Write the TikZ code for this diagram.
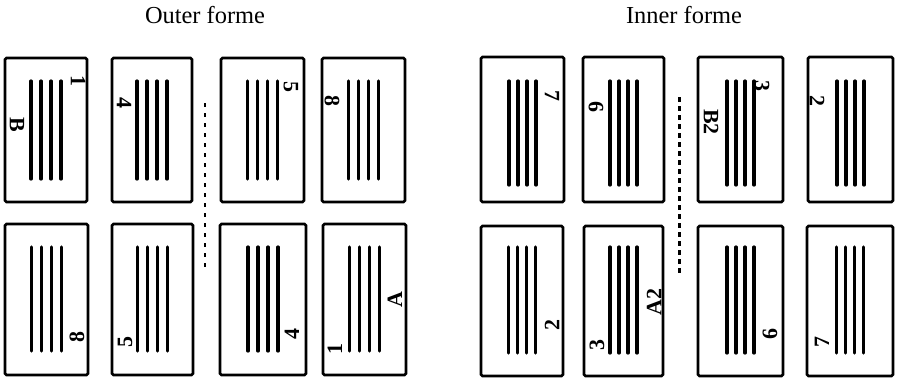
\documentclass[tikz,border=0pt]{standalone}
\usepackage{fontspec}
\setmainfont{Liberation Serif}
\begin{document}
\begin{tikzpicture}[x=1bp,y=-1bp,
  pageframe/.style={line width=2.8bp, rounded corners=1.5bp},
  tline/.style={line width=3.2bp, line cap=round},
  title/.style={font=\fontsize{24.5}{27}\selectfont, inner sep=0pt},
  labT/.style={font=\bfseries\fontsize{22}{23}\selectfont, inner sep=0pt, rotate=-90},
  labB/.style={font=\bfseries\fontsize{22}{23}\selectfont, inner sep=0pt, rotate=90},
  dotline/.style={line width=2.6bp, dash pattern=on 4bp off 6bp},
  dotlineb/.style={line width=3bp, dash pattern=on 5bp off 4bp}]
\useasboundingbox (0,0) rectangle (901,381);
\newcommand\Pg[7]{%
  \draw[pageframe] (#1,#2) rectangle (#3,#4);
  \foreach \k in {-1.5,-0.5,0.5,1.5}
    \draw[tline] ({(#1+#3)/2+\k*#7},#5) -- ({(#1+#3)/2+\k*#7},#6);}
% titles
\node[title] (tout) at (205,15) {Outer forme};
\node[title] (tin) at (684,15) {Inner forme};
% outer forme, top row
\Pg{5}{58}{87}{202}{81}{179}{10}
\Pg{112}{58}{192}{202}{81}{179}{10}
\Pg{221}{58}{304}{202}{81}{179}{10}
\Pg{322}{58}{405}{202}{81}{179}{10}
% outer forme, bottom row
\Pg{5}{224}{88}{375}{247}{351}{10}
\Pg{112}{224}{193}{375}{247}{351}{10}
\Pg{220}{224}{306}{375}{247}{351}{10}
\Pg{323}{224}{406}{375}{247}{351}{10}
% inner forme, top row
\Pg{481}{57}{564}{202}{81}{185}{9}
\Pg{583}{57}{664}{202}{81}{185}{9}
\Pg{698}{57}{783}{202}{81}{185}{9}
\Pg{808}{57}{893}{202}{81}{185}{9}
% inner forme, bottom row
\Pg{481}{226}{563}{376}{247}{353}{9}
\Pg{584}{226}{663}{376}{247}{353}{9}
\Pg{698}{226}{783}{376}{247}{353}{9}
\Pg{807}{226}{893}{376}{247}{353}{9}
% fold lines
\coordinate (oda) at (205,103); \coordinate (odb) at (205,272);
\draw[dotline] (oda) -- (odb);
\coordinate (ida) at (679,97); \coordinate (idb) at (679,277);
\draw[dotlineb] (ida) -- (idb);
% outer forme labels
\node[labT] (ot1) at (78,81) {1};
\node[labT] (otB) at (17,125) {B};
\node[labT] (ot4) at (124,103) {4};
\node[labT] (ot5) at (291,87) {5};
\node[labT] (ot8) at (332,101) {8};
\node[labB] (ob8) at (77,337) {8};
\node[labB] (ob5) at (125,342) {5};
\node[labB] (ob4) at (292,334) {4};
\node[labB] (ob1) at (335,349) {1};
\node[labB] (obA) at (395,300) {A};
% inner forme labels
\node[labT] (it7) at (552,96) {7};
\node[labT] (it6) at (596,107) {6};
\node[labT] (it3) at (762,86) {3};
\node[labT] (itB) at (711,122) {B2};
\node[labT] (it2) at (817,101) {2};
\node[labB] (ib2) at (552,325) {2};
\node[labB] (ib3) at (597,345) {3};
\node[labB] (ibA) at (654,302) {A2};
\node[labB] (ib6) at (770,334) {6};
\node[labB] (ib7) at (822,342) {7};
\end{tikzpicture}
\end{document}
